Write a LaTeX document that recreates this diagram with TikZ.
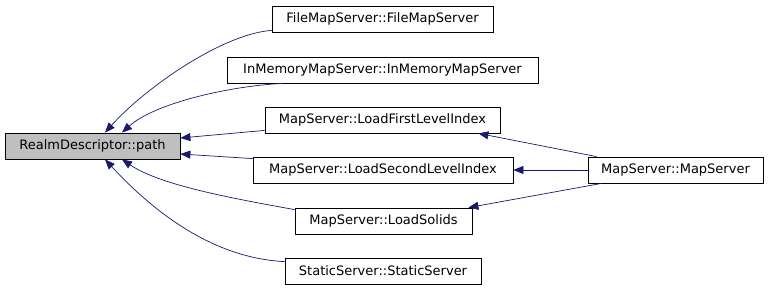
\documentclass[tikz,border=0pt]{standalone}
\usepackage{fontspec}
\setmainfont{DejaVu Sans}
\usetikzlibrary{arrows.meta}
\definecolor{edgeblue}{HTML}{191970}
\definecolor{hlgray}{HTML}{BFBFBF}
\begin{document}
\begin{tikzpicture}[x=1pt,y=-1pt,
  box/.style={draw=black,line width=0.8pt,fill=white,inner sep=0pt,minimum height=26pt,font=\fontsize{13}{15}\selectfont,text=black},
  edge/.style={draw=edgeblue,line width=0.7pt,-{Triangle[length=10pt,width=8pt]},fill=none}
]
\useasboundingbox (0,0) rectangle (768,291);
\node[box,fill=hlgray,minimum width=175pt] (rd) at (92.5,146) {RealmDescriptor::path};
\node[box,minimum width=221pt] (fm) at (382.5,19) {FileMapServer::FileMapServer};
\node[box,minimum width=311pt] (im) at (382.5,70) {InMemoryMapServer::InMemoryMapServer};
\node[box,minimum width=235pt] (lf) at (382.5,120) {MapServer::LoadFirstLevelIndex};
\node[box,minimum width=260pt] (ls) at (383,170) {MapServer::LoadSecondLevelIndex};
\node[box,minimum width=177pt] (so) at (383.5,221) {MapServer::LoadSolids};
\node[box,minimum width=196pt] (st) at (383,271) {StaticServer::StaticServer};
\node[box,minimum width=175pt] (ms) at (675.5,170) {MapServer::MapServer};

\draw[edge] ([yshift=2pt]fm.south west) .. controls (222,34) and (145,88) .. ([xshift=12.5pt]rd.north);
\draw[edge] ([xshift=56pt]im.south west) .. controls (230,86) and (155,103) .. ([xshift=29.5pt]rd.north);
\draw[edge] ([yshift=3pt]lf.south west) -- ([yshift=8pt]rd.east);
\draw[edge] ([yshift=-2pt]ls.north west) -- ([yshift=-8pt]rd.east);
\draw[edge] ([yshift=-2pt]so.north west) .. controls (230,198) and (160,185) .. ([xshift=29.5pt]rd.south);
\draw[edge] ([yshift=-4pt]st.north west) .. controls (210,258) and (150,208) .. ([xshift=12.5pt]rd.south);
\draw[edge] ([xshift=9pt]ms.north west) -- ([xshift=-22pt]lf.south east);
\draw[edge] (ms.west) -- (ls.east);
\draw[edge] ([xshift=14pt]ms.south west) -- ([xshift=-4pt]so.north east);
\end{tikzpicture}
\end{document}
